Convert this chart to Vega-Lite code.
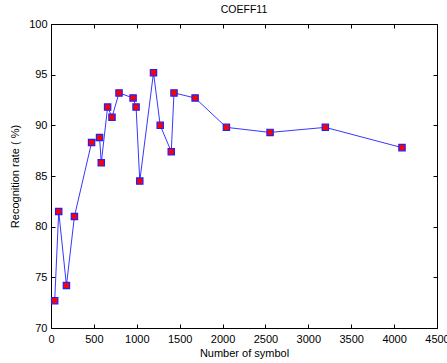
{
  "$schema": "https://vega.github.io/schema/vega-lite/v6.json",
  "width": 386,
  "height": 304,
  "autosize": {"type": "none"},
  "padding": {"left": 51, "top": 24, "right": 10, "bottom": 35},
  "background": "white",
  "config": {
    "view": {"stroke": null},
    "font": "Liberation Sans",
    "axis": {"grid": false, "domainColor": "black", "tickColor": "black", "labelColor": "black", "titleColor": "black", "labelFontSize": 11, "titleFontSize": 11, "titleFontWeight": "normal", "labelFont": "Liberation Sans", "titleFont": "Liberation Sans"},
    "title": {"fontSize": 10.5, "fontWeight": "normal", "font": "Liberation Sans", "color": "black"}
  },
  "title": {"text": "COEFF11", "offset": 3},
  "data": {"values": [
    {"n": 43, "rate": 72.7},
    {"n": 90, "rate": 81.5},
    {"n": 180, "rate": 74.2},
    {"n": 273, "rate": 81.0},
    {"n": 473, "rate": 88.3},
    {"n": 566, "rate": 88.8},
    {"n": 586, "rate": 86.3},
    {"n": 660, "rate": 91.8},
    {"n": 711, "rate": 90.8},
    {"n": 793, "rate": 93.2},
    {"n": 957, "rate": 92.7},
    {"n": 992, "rate": 91.8},
    {"n": 1035, "rate": 84.5},
    {"n": 1195, "rate": 95.2},
    {"n": 1273, "rate": 90.0},
    {"n": 1402, "rate": 87.4},
    {"n": 1434, "rate": 93.2},
    {"n": 1680, "rate": 92.7},
    {"n": 2045, "rate": 89.8},
    {"n": 2554, "rate": 89.3},
    {"n": 3198, "rate": 89.8},
    {"n": 4092, "rate": 87.8}
  ]},
  "layer": [
    {
      "mark": {"type": "line", "color": "#2020ff", "strokeWidth": 0.9},
      "encoding": {
        "x": {"field": "n", "type": "quantitative", "scale": {"domain": [0, 4500], "nice": false},
          "axis": {"title": "Number of symbol", "values": [0,500,1000,1500,2000,2500,3000,3500,4000,4500], "format": "d", "tickSize": -4, "labelPadding": 9, "titlePadding": 3, "labelFlush": false, "labelOverlap": false}},
        "y": {"field": "rate", "type": "quantitative", "scale": {"domain": [70, 100], "nice": false, "zero": false},
          "axis": {"title": "Recognition rate ( %)", "values": [70,75,80,85,90,95,100], "tickSize": -4, "labelPadding": 8, "titlePadding": 8, "labelFlush": false}}
      }
    },
    {
      "mark": {"type": "point", "shape": "square", "filled": false, "fill": "red", "fillOpacity": 1, "stroke": "#2020ff", "strokeWidth": 1.2, "size": 40, "opacity": 1},
      "encoding": {
        "x": {"field": "n", "type": "quantitative", "scale": {"domain": [0, 4500], "nice": false},
          "axis": {"orient": "top", "labels": false, "title": null, "values": [0,500,1000,1500,2000,2500,3000,3500,4000,4500], "tickSize": -4}},
        "y": {"field": "rate", "type": "quantitative", "scale": {"domain": [70, 100], "nice": false, "zero": false},
          "axis": {"orient": "right", "labels": false, "title": null, "values": [70,75,80,85,90,95,100], "tickSize": -4}}
      }
    }
  ],
  "resolve": {"axis": {"x": "independent", "y": "independent"}}
}
